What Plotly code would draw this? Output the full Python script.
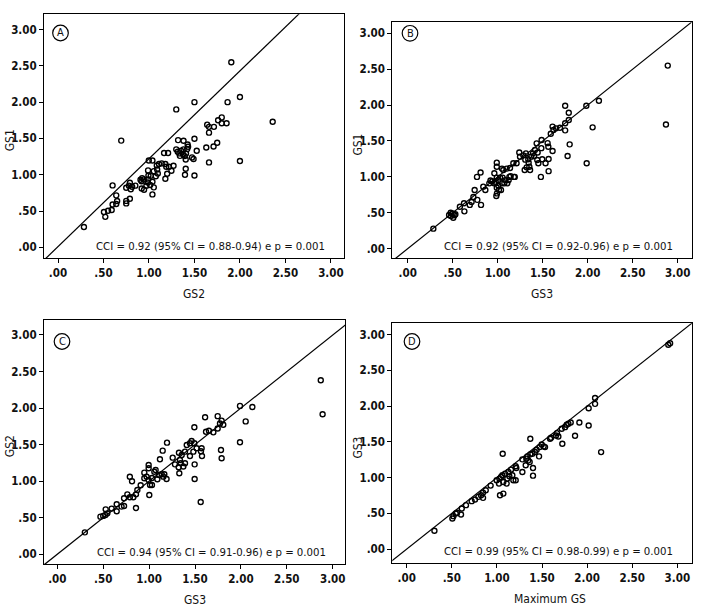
import plotly.graph_objects as go

# ---------------- data ----------------
tick_vals = [0, 0.5, 1, 1.5, 2, 2.5, 3]
tick_text = [".00", ".50", "1.00", "1.50", "2.00", "2.50", "3.00"]

panel_letters = ["A", "B", "C", "D"]
x_titles = ["GS2", "GS3", "GS3", "Maximum GS"]
y_titles = ["GS1", "GS1", "GS2", "GS3"]
cci_texts = [
    "CCI = 0.92 (95% CI = 0.88-0.94) e p = 0.001",
    "CCI = 0.92 (95% CI = 0.92-0.96) e p = 0.001",
    "CCI = 0.94 (95% CI = 0.91-0.96) e p = 0.001",
    "CCI = 0.99 (95% CI = 0.98-0.99) e p = 0.001",
]
# reference line per panel: intercept, slope
line_intercepts = [0.01, 0.0, 0.0, 0.0]
line_slopes = [1.21, 1.0, 1.0, 1.0]

a_x = [0.285, 0.505, 0.52, 0.55, 0.59, 0.60, 0.64, 0.65, 0.64, 0.60, 0.695, 0.75, 0.75, 0.79, 0.75, 0.78,
       0.79, 0.80, 0.815, 0.85, 0.925, 0.943, 0.92, 0.946, 0.972, 0.99, 0.987, 1.038, 1.013, 1.053, 1.038,
       0.99, 0.994, 1.02, 1.053, 1.09, 1.097, 1.075, 1.086, 1.11, 1.14, 1.18, 1.19, 1.22, 1.247, 1.27, 1.20,
       1.18, 0.998, 1.038, 1.166, 1.21, 1.30, 1.316, 1.352, 1.38, 1.334, 1.374, 1.407, 1.393, 1.404, 1.34,
       1.473, 1.49, 1.32, 1.38, 1.425, 1.43, 1.42, 1.525, 1.50, 1.396, 1.404, 1.50, 1.30, 1.50, 1.864, 2.0,
       1.905, 2.36, 1.64, 1.66, 1.714, 1.66, 1.76, 1.80, 1.80, 1.853, 1.63, 1.71, 1.75, 1.66, 2.0, 0.907,
       0.918]
a_y = [0.28, 0.486, 0.42, 0.505, 0.514, 0.59, 0.596, 0.638, 0.716, 0.853, 1.47, 0.64, 0.605, 0.67, 0.82, 0.85,
       0.89, 0.80, 0.835, 0.85, 0.954, 0.936, 0.81, 0.794, 0.849, 0.936, 0.894, 0.904, 0.858, 0.826, 0.729,
       1.06, 0.99, 0.986, 1.05, 1.073, 1.018, 0.98, 1.128, 1.147, 1.156, 1.147, 1.11, 1.11, 1.055, 1.124, 1.014,
       0.945, 1.197, 1.197, 1.30, 1.30, 1.35, 1.317, 1.33, 1.35, 1.294, 1.284, 1.294, 1.257, 1.21, 1.26,
       1.239, 1.216, 1.477, 1.468, 1.417, 1.385, 1.353, 1.33, 1.495, 1.0, 1.083, 0.99, 1.90, 2.0, 2.0, 2.07,
       2.55, 1.73, 1.69, 1.66, 1.66, 1.58, 1.75, 1.79, 1.71, 1.71, 1.376, 1.39, 1.44, 1.17, 1.19, 0.93,
       0.91]

b_x = [0.285, 0.46, 0.478, 0.50, 0.53, 0.507, 0.52, 0.48, 0.58, 0.626, 0.63, 0.69, 0.71, 0.73, 0.774, 0.815,
       0.744, 0.77, 0.81, 0.84, 0.863, 0.907, 0.92, 0.94, 0.96, 0.98, 0.99, 0.99, 1.01, 1.026, 1.007, 1.037,
       1.048, 1.074, 1.055, 1.085, 1.107, 1.122, 0.985, 0.992, 1.014, 0.99, 0.99, 0.963, 1.048, 1.063, 1.1,
       1.137, 1.13, 1.144, 1.18, 1.19, 1.174, 1.21, 1.24, 1.248, 1.285, 1.314, 1.307, 1.34, 1.344, 1.352,
       1.36, 1.30, 1.322, 1.373, 1.392, 1.414, 1.433, 1.404, 1.444, 1.452, 1.44, 1.488, 1.485, 1.495, 1.532,
       1.555, 1.563, 1.566, 1.61, 1.566, 1.48, 1.75, 1.985, 2.125, 1.79, 1.79, 1.75, 1.692, 1.648, 1.61,
       1.62, 1.75, 2.055, 1.80, 1.777, 1.989, 1.59, 2.89, 2.87]
b_y = [0.279, 0.47, 0.50, 0.49, 0.48, 0.43, 0.465, 0.455, 0.585, 0.632, 0.52, 0.61, 0.65, 0.72, 0.68, 0.61,
       0.817, 1.0, 1.06, 0.864, 0.817, 0.91, 0.95, 0.94, 0.91, 0.92, 0.99, 0.85, 0.955, 0.99, 0.879, 0.817,
       0.91, 0.91, 0.99, 0.955, 0.91, 0.955, 0.733, 0.77, 0.817, 1.142, 1.198, 1.05, 1.115, 1.096, 1.115,
       1.124, 1.0, 1.01, 1.0, 1.0, 1.19, 1.19, 1.34, 1.282, 1.3, 1.328, 1.24, 1.245, 1.198, 1.142,
       1.096, 1.096, 1.133, 1.282, 1.328, 1.375, 1.467, 1.29, 1.34, 1.19, 1.235, 1.514, 1.4, 1.245, 1.19,
       1.47, 1.42, 1.25, 1.36, 1.08, 1.0, 1.99, 1.99, 2.06, 1.894, 1.792, 1.746, 1.685, 1.676, 1.7,
       1.653, 1.648, 1.69, 1.453, 1.29, 1.19, 1.6, 2.55, 1.73]

c_x = [0.30, 0.47, 0.50, 0.527, 0.545, 0.524, 0.592, 0.647, 0.647, 0.70, 0.727, 0.727, 0.763, 0.79, 0.828,
       0.857, 0.857, 0.872, 0.79, 0.814, 0.908, 0.948, 0.948, 0.995, 0.995, 0.973, 0.995, 1.01, 1.031, 1.002,
       1.031, 1.057, 1.071, 1.09, 1.11, 1.137, 1.155, 1.166, 1.19, 1.118, 1.148, 1.195, 1.257, 1.282, 1.322,
       1.329, 1.336, 1.325, 1.344, 1.355, 1.373, 1.391, 1.391, 1.41, 1.445, 1.463, 1.482, 1.493, 1.496,
       1.496, 1.445, 1.518, 1.572, 1.565, 1.576, 1.493, 1.61, 1.62, 1.652, 1.70, 1.747, 1.747, 1.772, 1.79,
       1.808, 1.79, 1.783, 1.562, 1.99, 1.99, 2.052, 2.125, 2.87, 2.89]
c_y = [0.30, 0.515, 0.525, 0.615, 0.56, 0.538, 0.625, 0.684, 0.588, 0.652, 0.661, 0.766, 0.82, 0.78, 0.78,
       0.82, 0.634, 0.88, 1.06, 1.0, 0.944, 1.04, 1.117, 1.176, 1.222, 1.062, 1.017, 0.948, 0.948, 0.811,
       1.044, 1.13, 1.154, 1.026, 1.085, 1.094, 1.062, 1.094, 1.03, 1.30, 1.418, 1.527, 1.322, 1.23, 1.19,
       1.108, 1.29, 1.39, 1.245, 1.358, 1.2, 1.245, 1.404, 1.495, 1.518, 1.55, 1.404, 1.518, 1.23,
       1.03, 1.345, 1.45, 1.45, 1.41, 1.345, 1.737, 1.874, 1.677, 1.69, 1.668, 1.89, 1.72, 1.79, 1.828,
       1.773, 1.313, 1.427, 0.716, 2.03, 1.532, 1.818, 2.015, 2.38, 1.915]

d_x = [0.307, 0.506, 0.517, 0.543, 0.558, 0.602, 0.61, 0.657, 0.72, 0.757, 0.794, 0.824, 0.846, 0.846, 0.876,
       0.93, 0.997, 1.023, 1.027, 1.045, 1.06, 1.071, 1.09, 1.108, 1.115, 1.127, 1.138, 1.156, 1.171, 1.182,
       1.208, 1.208, 1.215, 1.282, 1.282, 1.319, 1.326, 1.337, 1.348, 1.363, 1.37, 1.393, 1.40, 1.40, 1.422,
       1.44, 1.467, 1.474, 1.496, 1.518, 1.533, 1.589, 1.60, 1.655, 1.666, 1.681, 1.718, 1.725, 1.755,
       1.773, 1.792, 1.818, 1.866, 1.914, 2.017, 2.017, 2.088, 2.088, 2.155, 1.37, 1.064, 1.034, 1.071,
       2.90, 2.92]
d_y = [0.256, 0.428, 0.46, 0.497, 0.507, 0.483, 0.567, 0.614, 0.67, 0.693, 0.73, 0.753, 0.716, 0.79, 0.823,
       0.888, 0.962, 0.916, 0.986, 1.009, 1.032, 0.939, 1.055, 0.916, 0.986, 1.079, 1.018, 1.111, 1.032, 0.962,
       0.962, 1.158, 1.134, 1.079, 1.255, 1.172, 1.265, 1.297, 1.241, 1.218, 1.325, 1.334, 1.134, 1.027, 1.358,
       1.39, 1.297, 1.427, 1.464, 1.437, 1.427, 1.543, 1.557, 1.59, 1.622, 1.576, 1.683, 1.474, 1.706,
       1.739, 1.753, 1.771, 1.585, 1.771, 1.971, 1.729, 2.032, 2.115, 1.357, 1.543, 1.334, 0.753, 0.776,
       2.86, 2.88]

# ---------------- layout geometry ----------------
W, H = 704, 610


def px(xp):
    return xp / W


def py(yp):
    return 1 - yp / H


# plot frames in page pixels: left, right, top, bottom
frames = [(44, 344, 14.3, 258.3), (392.3, 691.7, 22.3, 258.3),
          (44, 345, 320, 564.3), (392.3, 692.3, 323.3, 563.3)]
x_ranges = [[-0.154, 3.144], [-0.171, 3.156], [-0.145, 3.134], [-0.16, 3.166]]
y_ranges = [[-0.151, 3.21], [-0.134, 3.153], [-0.137, 3.205], [-0.20, 3.16]]
circle_centers = [(60.5, 33), (410, 33.3), (62, 341.5), (412, 341.5)]
circle_r = 7.8

xs = [a_x, b_x, c_x, d_x]
ys = [a_y, b_y, c_y, d_y]

FONT = "DejaVu Sans Condensed, Liberation Sans Narrow, Arial Narrow, sans-serif"

fig = go.Figure()
annotations = []
shapes = []
layout_axes = {}

for i in range(4):
    n = "" if i == 0 else str(i + 1)
    xa, ya = "x" + n, "y" + n
    l, r, t, b = frames[i]
    fig.add_trace(go.Scatter(
        x=xs[i], y=ys[i], mode="markers", xaxis=xa, yaxis=ya,
        marker=dict(symbol="circle-open", size=5, color="black", line=dict(width=1.4, color="black")),
        showlegend=False, hoverinfo="skip"))
    lx = [-1, 4]
    ly = [line_intercepts[i] + line_slopes[i] * v for v in lx]
    fig.add_trace(go.Scatter(
        x=lx, y=ly, mode="lines", xaxis=xa, yaxis=ya,
        line=dict(color="black", width=1.2), showlegend=False, hoverinfo="skip"))

    common = dict(tickvals=tick_vals, ticktext=tick_text, ticks="outside", ticklen=4,
                  tickcolor="black", tickwidth=1, showline=True, linecolor="black", linewidth=1,
                  mirror=True, showgrid=False, zeroline=False,
                  tickfont=dict(family=FONT, size=11.5, color="#111", weight="bold"))
    layout_axes["xaxis" + n] = dict(common, range=x_ranges[i], domain=[px(l), px(r)], anchor=ya)
    layout_axes["yaxis" + n] = dict(common, range=y_ranges[i], domain=[py(b), py(t)], anchor=xa)

    # x title
    annotations.append(dict(text=x_titles[i], xref="paper", yref="paper",
                            x=px((l + r) / 2 + (8 if i == 3 else 0)), y=py(b + 36),
                            showarrow=False, xanchor="center", yanchor="middle",
                            font=dict(family=FONT, size=12, color="#111")))
    # y title
    annotations.append(dict(text=y_titles[i], xref="paper", yref="paper",
                            x=px(l - 34), y=py((t + b) / 2 + 4), textangle=-90,
                            showarrow=False, xanchor="center", yanchor="middle",
                            font=dict(family=FONT, size=12, color="#111")))
    # CCI text
    annotations.append(dict(text=cci_texts[i], xref="paper", yref="paper",
                            x=px(r - 17), y=py(b - 12),
                            showarrow=False, xanchor="right", yanchor="middle",
                            font=dict(family=FONT, size=11.3, color="#111")))
    # panel letter
    cx, cy = circle_centers[i]
    shapes.append(dict(type="circle", xref="paper", yref="paper",
                       x0=px(cx - circle_r), x1=px(cx + circle_r),
                       y0=py(cy + circle_r), y1=py(cy - circle_r),
                       line=dict(color="black", width=1.2)))
    annotations.append(dict(text=panel_letters[i], xref="paper", yref="paper",
                            x=px(cx), y=py(cy), showarrow=False,
                            xanchor="center", yanchor="middle",
                            font=dict(family=FONT, size=11, color="#111")))

fig.update_layout(width=W, height=H, margin=dict(l=0, r=0, t=0, b=0),
                  paper_bgcolor="white", plot_bgcolor="white",
                  annotations=annotations, shapes=shapes, **layout_axes)

fig.write_html("out.html", config={"displayModeBar": False},
               post_script="document.body.style.margin='0px';")
